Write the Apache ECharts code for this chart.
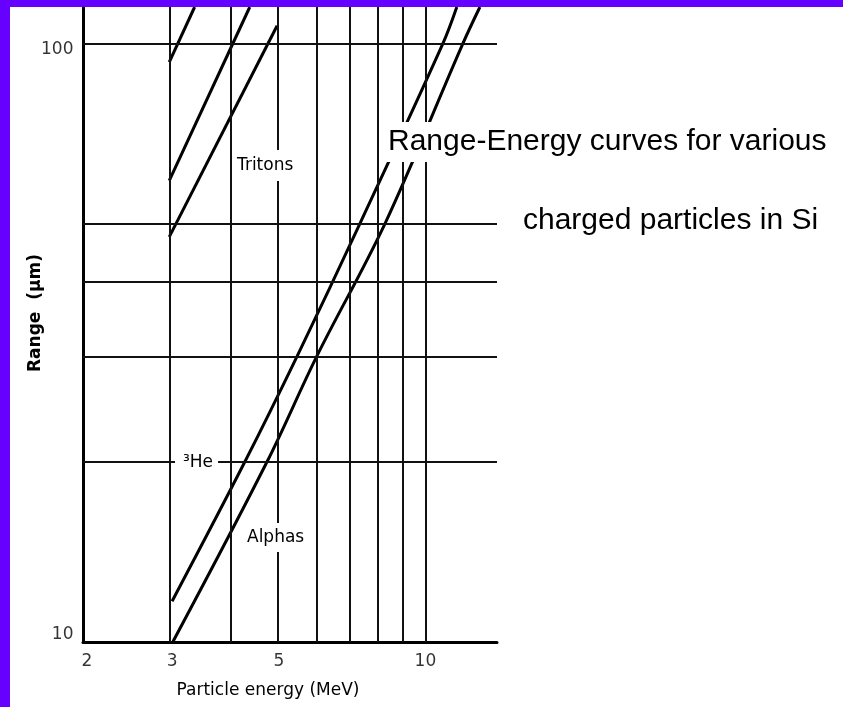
<!DOCTYPE html>
<html>
<head>
<meta charset="utf-8">
<script src="https://cdn.jsdelivr.net/npm/echarts@6/dist/echarts.min.js"></script>
<style>
html,body{margin:0;padding:0;background:#ffffff;}
#chart{width:843px;height:707px;}
</style>
</head>
<body>
<div id="chart"></div>
<script>
// ---- data (log-log range-energy curves in Si) ----
const energyProtons = [3.0, 3.38];
const rangeProtons = [93, 115];

const energyDeuterons = [3.0, 4.38];
const rangeDeuterons = [59, 115];

const energyTritons = [3.0, 4.98];
const rangeTritons = [47.5, 107];

const energyHelium3 = [3.04, 4.28, 5.47, 7.35, 10.86, 11.59];
const rangeHelium3 = [11.7, 20, 30, 50, 100, 115];

const energyAlphas = [3.05, 4.75, 6.0, 8.27, 11.93, 12.92];
const rangeAlphas = [10, 20, 30, 50, 100, 115];

const xGridValues = [3, 4, 5, 6, 7, 8, 9, 10];
const yGridValues = [20, 30, 40, 50, 100];
const xTickValues = [2, 3, 5, 10];
const yTickValues = [10, 100];

const xMin = 2, xMax = 14, yMin = 10, yMax = 115;

// ---- build chart ----
function pairs(xs, ys) { return xs.map((x, i) => [x, ys[i]]); }

const curves = [
  { name: 'Protons', e: energyProtons, r: rangeProtons },
  { name: 'Deuterons', e: energyDeuterons, r: rangeDeuterons },
  { name: 'Tritons', e: energyTritons, r: rangeTritons },
  { name: '3He', e: energyHelium3, r: rangeHelium3 },
  { name: 'Alphas', e: energyAlphas, r: rangeAlphas }
];

const tickFont = { fontFamily: 'DejaVu Sans', fontSize: 17, color: '#000' };
const yLabelShift = { 10: -7, 100: 6 };
const xLabelShift = { 2: 4, 3: 3, 5: 1, 10: 0 };

const series = [];

// x tick labels + grid lines (markLine)
series.push({
  type: 'scatter',
  name: 'xTicks',
  data: xTickValues.map(v => ({
    value: [v, yMin],
    label: { offset: [xLabelShift[v] || 0, 0] }
  })),
  symbolSize: 1,
  itemStyle: { color: 'rgba(0,0,0,0)' },
  clip: false,
  silent: true,
  z: 1,
  label: Object.assign({
    show: true, position: 'bottom', distance: 11,
    formatter: p => String(p.value[0])
  }, tickFont),
  markLine: {
    silent: true,
    symbol: ['none', 'none'],
    label: { show: false },
    lineStyle: { color: '#111', width: 2, type: 'solid' },
    emphasis: { disabled: true },
    data: xGridValues.map(v => ({ xAxis: v })).concat(yGridValues.map(v => ({ yAxis: v })))
  }
});

// y tick labels
series.push({
  type: 'scatter',
  name: 'yTicks',
  data: yTickValues.map(v => ({
    value: [xMin, v],
    label: { offset: [0, yLabelShift[v] || 0] }
  })),
  symbolSize: 1,
  itemStyle: { color: 'rgba(0,0,0,0)' },
  clip: false,
  silent: true,
  z: 1,
  label: Object.assign({
    show: true, position: 'left', distance: 9,
    formatter: p => String(p.value[1])
  }, tickFont)
});

curves.forEach(c => {
  series.push({
    type: 'line',
    name: c.name,
    data: pairs(c.e, c.r),
    showSymbol: false,
    symbol: 'none',
    smooth: c.e.length > 2 ? 0.35 : false,
    silent: true,
    clip: true,
    z: 3,
    lineStyle: { color: '#000', width: 3 }
  });
});

function note(text, left, top, font, pad, bg) {
  return {
    text: text, left: left, top: top,
    padding: pad,
    backgroundColor: bg ? '#ffffff' : 'transparent',
    itemGap: 0,
    textStyle: Object.assign({ color: '#000', fontWeight: 'normal' }, font)
  };
}

const annFont = { fontFamily: 'DejaVu Sans', fontSize: 17 };
const bigFont = { fontFamily: 'Liberation Sans', fontSize: 30 };

const option = {
  animation: false,
  backgroundColor: '#ffffff',
  title: [
    note('Range-Energy curves for various', 385, 122, bigFont, [5, 3], true),
    note('charged particles in Si', 523, 206, bigFont, [0, 0], false),
    note('Tritons', 235, 150, annFont, [7, 2], true),
    note('\u00B3He', 175, 450, annFont, [4, 5, 4, 8], true),
    note('Alphas', 245, 523, annFont, [6, 2], true)
  ],
  grid: { left: 83, right: 346, top: 7, bottom: 65, containLabel: false },
  xAxis: {
    type: 'log', logBase: 10, min: xMin, max: xMax,
    name: 'Particle energy (MeV)',
    nameLocation: 'middle', nameGap: 40,
    nameTextStyle: { fontFamily: 'DejaVu Sans', fontSize: 17, color: '#000', padding: [0, 44, 0, 0] },
    axisLine: { show: true, onZero: false, lineStyle: { color: '#000', width: 3 } },
    axisTick: { show: false },
    axisLabel: { show: false },
    splitLine: { show: false },
    minorTick: { show: false },
    minorSplitLine: { show: false }
  },
  yAxis: {
    type: 'log', logBase: 10, min: yMin, max: yMax,
    name: 'Range  (\u00B5m)',
    nameLocation: 'middle', nameGap: 39, nameRotate: 90,
    nameTextStyle: { fontFamily: 'DejaVu Sans', fontWeight: 'bold', fontSize: 17, color: '#000', padding: [0, 0, 0, 23] },
    axisLine: { show: true, onZero: false, lineStyle: { color: '#000', width: 3 } },
    axisTick: { show: false },
    axisLabel: { show: false },
    splitLine: { show: false },
    minorTick: { show: false },
    minorSplitLine: { show: false }
  },
  graphic: [
    { type: 'rect', z: 100, silent: true, shape: { x: 0, y: 0, width: 843, height: 7 }, style: { fill: '#6600ff' } },
    { type: 'rect', z: 100, silent: true, shape: { x: 0, y: 0, width: 10, height: 707 }, style: { fill: '#6600ff' } }
  ],
  series: series
};

const chart = echarts.init(document.getElementById('chart'), null, { renderer: 'canvas' });
chart.setOption(option);
</script>
</body>
</html>
